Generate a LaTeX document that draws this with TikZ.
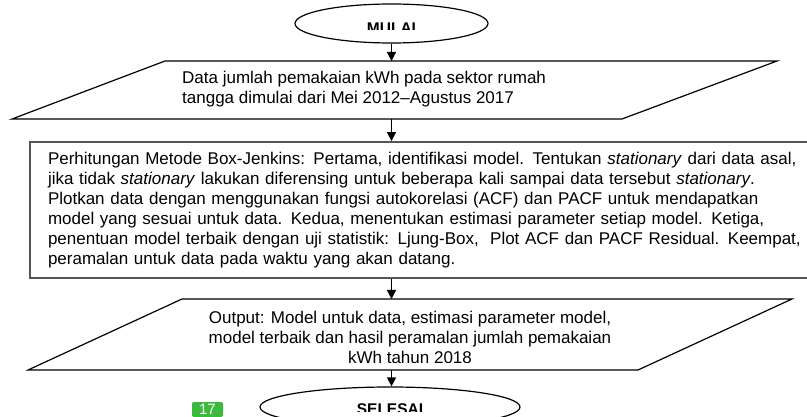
\documentclass[tikz,border=0pt]{standalone}
\usepackage{fontspec}
\setmainfont{Liberation Sans}
\usetikzlibrary{arrows.meta,shapes}

\definecolor{boxgray}{RGB}{85,85,85}
\definecolor{pagegreen}{RGB}{60,186,60}

\tikzset{
  terminal/.style={ellipse, draw, line width=1.2pt, inner sep=0pt},
  terminaltext/.style={anchor=base, font=\fontsize{15.5}{20}\selectfont\bfseries},
  io/.style={draw, line width=1.2pt},
  process/.style={rectangle, draw=boxgray, line width=1.8pt, align=left},
  flow/.style={-{Triangle[length=9pt,width=9pt]}, line width=1.2pt},
}

\begin{document}
\begin{tikzpicture}[x=1pt,y=-1pt,font=\fontsize{17}{20}\selectfont]
  \useasboundingbox (0,0) rectangle (807,417);

  % start / end
  \node[terminal, minimum width=193, minimum height=39] (mulai) at (391.5,23.5) {};
  \node[terminal, minimum width=260, minimum height=40] (selesai) at (390,407) {};
  \begin{scope}
    \clip (0,0) rectangle (807,29.5);
    \node[terminaltext] (mulaitext) at (391.5,33.8) {MULAI};
  \end{scope}
  \begin{scope}
    \clip (0,380) rectangle (807,411.5);
    \node[terminaltext] (selesaitext) at (390,414.1) {SELESAI};
  \end{scope}

  % input data
  \draw[io] (165,61) coordinate (data-nw) -- (777,61) -- (622,119) coordinate (data-se)
    -- (12,119) -- cycle;
  \node[anchor=west, align=left, inner sep=0pt] (datatext) at (182,89)
    {Data jumlah pemakaian kWh pada sektor rumah\\
     tangga dimulai dari Mei 2012--Agustus 2017};

  % Box-Jenkins steps
  \node[process, text width=780, inner xsep=18, minimum height=136] (box) at (438,210)
    {Perhitungan Metode Box-Jenkins: Pertama, identifikasi model. Tentukan \textit{stationary} dari data asal,\\
     jika tidak \textit{stationary} lakukan diferensing untuk beberapa kali sampai data tersebut \textit{stationary}.\\
     Plotkan data dengan menggunakan fungsi autokorelasi (ACF) dan PACF untuk mendapatkan\\
     model yang sesuai untuk data. Kedua, menentukan estimasi parameter setiap model. Ketiga,\\
     penentuan model terbaik dengan uji statistik: Ljung-Box,~ Plot ACF dan PACF Residual. Keempat,\\
     peramalan untuk data pada waktu yang akan datang.};

  % output
  \draw[io] (182,299) coordinate (output-nw) -- (792,299) -- (638,370) coordinate (output-se)
    -- (28,370) -- cycle;
  \begin{scope}
    \clip (0,290) rectangle (807,362);
    \node[align=center, inner sep=0pt] (outtext) at (410,337.5)
      {Output: Model untuk data, estimasi parameter model,\\
       model terbaik dan hasil peramalan jumlah pemakaian\\
       kWh tahun 2018};
  \end{scope}

  % page mark
  \node[fill=pagegreen, rounded corners=2pt, text=white, minimum width=31, minimum height=15,
        inner sep=0pt, font=\fontsize{15}{15}\selectfont] (pagenum) at (207.5,409.5) {17};

  \draw[flow] (mulai.south) -- (mulai.south |- data-nw);
  \draw[flow] (mulai.south |- data-se) -- (box.north -| mulai.south);
  \draw[flow] (box.south -| mulai.south) -- (mulai.south |- output-nw);
  \draw[flow] (mulai.south |- output-se) -- (selesai.north -| mulai.south);
\end{tikzpicture}
\end{document}
